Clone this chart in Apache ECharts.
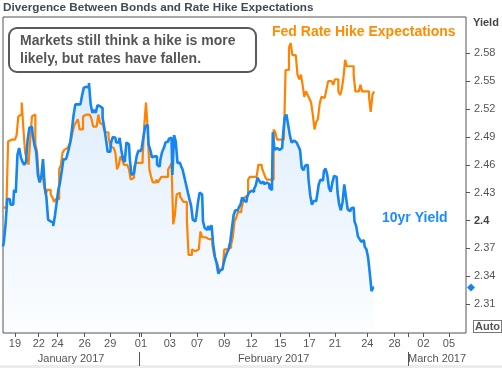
<!DOCTYPE html>
<html><head><meta charset="utf-8">
<script src="https://cdn.jsdelivr.net/npm/echarts@6/dist/echarts.min.js"></script>
<style>html,body{margin:0;padding:0;background:#fff}#c{width:502px;height:368px}</style>
</head><body><div id="c"></div>
<script>
// 10yr Treasury yield, intraday samples
const yieldSeries = [
 2.372,2.377,2.396,2.423,2.423,2.417,2.417,2.433,2.430,2.471,
 2.478,2.468,2.463,2.460,2.463,2.487,2.500,2.501,2.492,2.481,
 2.474,2.449,2.441,2.447,2.466,2.437,2.425,2.401,2.399,2.398,
 2.394,2.405,2.419,2.433,2.441,2.453,2.466,2.466,2.469,2.476,
 2.484,2.498,2.514,2.525,2.525,2.525,2.523,2.535,2.543,2.544,
 2.543,2.548,2.525,2.516,2.519,2.516,2.524,2.523,2.521,2.511,
 2.500,2.487,2.474,2.474,2.484,2.490,2.489,2.484,2.484,2.489,
 2.476,2.466,2.463,2.484,2.482,2.466,2.449,2.451,2.458,2.469,
 2.475,2.475,2.478,2.490,2.501,2.503,2.482,2.476,2.468,2.469,
 2.469,2.460,2.458,2.466,2.474,2.478,2.484,2.485,2.488,2.489,
 2.449,2.492,2.485,2.462,2.462,2.459,2.455,2.447,2.439,2.431,
 2.423,2.416,2.401,2.399,2.404,2.419,2.430,2.428,2.399,2.392,
 2.390,2.394,2.390,2.395,2.374,2.361,2.354,2.343,2.346,2.348,
 2.353,2.360,2.365,2.369,2.377,2.392,2.406,2.411,2.411,2.414,
 2.417,2.425,2.422,2.420,2.426,2.430,2.432,2.431,2.434,2.438,
 2.446,2.443,2.440,2.442,2.439,2.441,2.439,2.435,2.433,2.495,
 2.476,2.478,2.476,2.474,2.478,2.492,2.511,2.514,2.503,2.492,
 2.484,2.486,2.484,2.484,2.480,2.476,2.457,2.454,2.459,2.460,
 2.444,2.427,2.417,2.421,2.421,2.427,2.439,2.444,2.443,2.453,
 2.456,2.449,2.435,2.431,2.441,2.448,2.447,2.431,2.417,2.411,
 2.420,2.439,2.425,2.412,2.410,2.413,2.414,2.399,2.394,2.383,
 2.380,2.377,2.379,2.372,2.369,2.360,2.343,2.324,2.328
];
// Fed rate hike expectations (scaled to yield axis)
const fedSeries = [
 2.414,2.414,2.414,2.485,2.487,2.487,2.487,2.487,2.492,2.512,
 2.514,2.527,2.498,2.473,2.466,2.460,2.487,2.512,2.514,2.482,
 2.474,2.447,2.447,2.453,2.439,2.428,2.433,2.433,2.428,2.425,
 2.420,2.423,2.423,2.455,2.460,2.473,2.476,2.478,2.476,2.482,
 2.487,2.496,2.503,2.506,2.509,2.498,2.498,2.512,2.514,2.514,
 2.514,2.514,2.509,2.501,2.501,2.503,2.514,2.505,2.503,2.500,
 2.495,2.495,2.490,2.480,2.478,2.476,2.473,2.455,2.460,2.469,
 2.466,2.460,2.460,2.462,2.455,2.444,2.446,2.457,2.462,2.462,
 2.462,2.462,2.466,2.503,2.527,2.498,2.455,2.447,2.441,2.441,
 2.444,2.441,2.444,2.447,2.447,2.447,2.447,2.455,2.458,2.462,
 2.396,2.406,2.428,2.430,2.426,2.423,2.420,2.420,2.401,2.363,
 2.363,2.369,2.367,2.369,2.369,2.369,2.388,2.382,2.382,2.380,
 2.380,2.380,2.380,2.374,2.363,2.358,2.353,2.347,2.347,2.349,
 2.369,2.369,2.369,2.371,2.374,2.382,2.399,2.403,2.409,2.409,
 2.412,2.420,2.425,2.427,2.444,2.447,2.447,2.447,2.447,2.449,
 2.460,2.460,2.457,2.452,2.447,2.444,2.444,2.444,2.444,2.498,
 2.495,2.487,2.487,2.487,2.487,2.487,2.562,2.562,2.586,2.591,
 2.578,2.578,2.578,2.557,2.552,2.557,2.546,2.533,2.539,2.535,
 2.531,2.527,2.514,2.498,2.506,2.509,2.525,2.533,2.532,2.532,
 2.541,2.550,2.550,2.548,2.546,2.552,2.552,2.539,2.535,2.541,
 2.554,2.573,2.566,2.566,2.566,2.566,2.557,2.539,2.539,2.541,
 2.546,2.539,2.539,2.539,2.539,2.533,2.517,2.535,2.539
];
// time axis: day tick labels and the sample index where each day begins
const dayLabels = ['19','22','24','26','29','01','03','07','09','12','15','17','21','24','28','02','05'];
const dayStarts = [7,21,32,48,63,81,98,114,130,146,163,180,195,214,230,247,262];
const monthNames = ['January 2017','February 2017','March 2017'];
const monthStarts = [0,80,238];
const slotCount = 273;
const yTicks = [2.31,2.34,2.37,2.40,2.43,2.46,2.49,2.52,2.55,2.58];
const yMin = 2.279, yMax = 2.619;

const FONT = '"Liberation Sans", Arial, sans-serif';
const categories = [];
for (let i = 0; i < slotCount; i++) {
  let d = -1;
  for (let k = 0; k < dayStarts.length; k++) if (dayStarts[k] <= i) d = k;
  categories.push((d < 0 ? '18' : dayLabels[d]) + '#' + (d < 0 ? i : i - dayStarts[d]));
}
const daySet = new Set(dayStarts);
const monthBoundary = new Set(monthStarts.slice(1));
const monthMid = {};
monthStarts.forEach((s, k) => {
  const e = k + 1 < monthStarts.length ? monthStarts[k + 1] : slotCount - 1;
  monthMid[Math.round((s + e) / 2)] = monthNames[k];
});

const chart = echarts.init(document.getElementById('c'), null, {renderer: 'canvas'});
const option = {
  animation: false,
  backgroundColor: '#fff',
  grid: {left: 3, right: 36, top: 17, bottom: 35, show: true, borderColor: '#555', borderWidth: 1, backgroundColor: 'transparent'},
  xAxis: [{
    type: 'category', data: categories, boundaryGap: false,
    axisLine: {show: false},
    axisTick: {show: true, length: 4, interval: (i) => daySet.has(i) || monthBoundary.has(i), lineStyle: {color: '#555'}},
    axisLabel: {interval: (i) => daySet.has(i), formatter: (v) => v.split('#')[0], color: '#555', fontSize: 11, margin: 5, fontFamily: FONT},
    splitLine: {show: false}
  }, {
    type: 'category', data: categories, boundaryGap: false, position: 'bottom', offset: 19,
    axisLine: {show: false},
    axisTick: {show: true, length: 14, interval: (i) => monthBoundary.has(i), lineStyle: {color: '#555'}},
    axisLabel: {interval: (i) => monthMid[i] !== undefined, formatter: (v, i) => monthMid[i] || '', color: '#555', fontSize: 11, margin: 1, fontFamily: FONT},
    splitLine: {show: false}
  }],
  yAxis: {
    type: 'value', position: 'right', min: yMin, max: yMax,
    splitLine: {show: false}, axisLine: {show: false},
    axisTick: {show: true, length: 4, customValues: yTicks, lineStyle: {color: '#555'}},
    axisLabel: {
      customValues: yTicks, margin: 8, color: '#555', fontSize: 11, fontFamily: FONT,
      formatter: (v) => { const s = String(parseFloat(v.toFixed(2))); return Math.abs(v - 2.4) < 1e-9 ? '{b|' + s + '}' : s; },
      rich: {b: {fontWeight: 'bold', color: '#444', fontSize: 11, fontFamily: FONT}}
    }
  },
  series: [{
    name: 'area', type: 'line', data: yieldSeries, symbol: 'none', z: 1, step: 'middle',
    lineStyle: {width: 0},
    areaStyle: {color: new echarts.graphic.LinearGradient(0, 0, 0, 1, [
      {offset: 0, color: 'rgba(30,136,235,0.21)'}, {offset: 1, color: 'rgba(30,136,235,0.02)'}])}
  }, {
    name: 'Fed Rate Hike Expectations', type: 'line', data: fedSeries, symbol: 'none', step: 'end', z: 2,
    lineStyle: {color: '#ff8200', width: 2.2}
  }, {
    name: '10yr Yield', type: 'line', data: yieldSeries, symbol: 'none', step: 'middle', z: 3,
    lineStyle: {color: '#1585f0', width: 2.6}
  }],
  graphic: [
    {type: 'rect', left: 0, bottom: 0, shape: {width: 502, height: 3}, style: {fill: '#ececec'}, silent: true},
    {type: 'text', left: 3, top: 2, style: {text: 'Divergence Between Bonds and Rate Hike Expectations', fontFamily: FONT, fontWeight: 'bold', fontSize: 11.7, fill: '#3f4b57'}},
    {type: 'rect', left: 8, top: 27, z: 10, shape: {width: 247, height: 44, r: 8}, style: {fill: '#fff', stroke: '#5a5a5a', lineWidth: 2}},
    {type: 'text', left: 20, top: 32, z: 11, style: {text: 'Markets still think a hike is more\nlikely, but rates have fallen.', fontFamily: FONT, fontWeight: 'bold', fontSize: 14, lineHeight: 18, fill: '#555'}},
    {type: 'text', left: 272, top: 25, z: 11, style: {text: 'Fed Rate Hike Expectations', fontFamily: FONT, fontWeight: 'bold', fontSize: 14, fill: '#ff8c00'}},
    {type: 'text', left: 382, top: 211, z: 11, style: {text: '10yr Yield', fontFamily: FONT, fontWeight: 'bold', fontSize: 14, fill: '#1a8cff'}},
    {type: 'text', left: 473, top: 17, style: {text: 'Yield', fontFamily: FONT, fontWeight: 'bold', fontSize: 11, fill: '#444'}},
    {type: 'text', left: 473, top: 320, style: {text: 'Auto', fontFamily: FONT, fontWeight: 'bold', fontSize: 11, fill: '#555', backgroundColor: '#fff', borderColor: '#777', borderWidth: 1, padding: [0, 1, 0, 1]}}
  ]
};
chart.setOption(option);
const last = yieldSeries[yieldSeries.length - 1];
const py = chart.convertToPixel({yAxisIndex: 0}, last);
const px = 466 + 5;
chart.setOption({graphic: option.graphic.concat([{
  type: 'polygon', shape: {points: [[px, py - 4], [px + 4, py], [px, py + 4], [px - 4, py]]}, style: {fill: '#1585f0'}
}])});
</script></body></html>
